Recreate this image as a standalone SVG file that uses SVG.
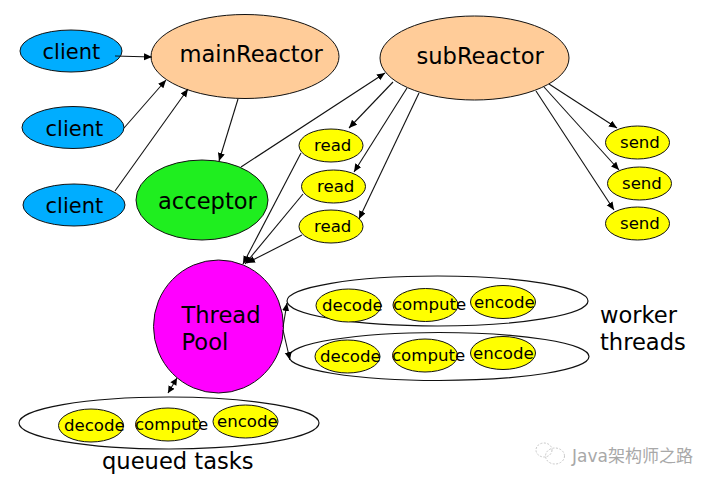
<svg xmlns="http://www.w3.org/2000/svg" width="716" height="486" viewBox="0 0 716 486">
<style>
text{font-family:"DejaVu Sans",Verdana,sans-serif;fill:#000}
.n ellipse{stroke:#111;stroke-width:1}
.blue ellipse{fill:#00adff}
.peach ellipse{fill:#ffcc99}
.y ellipse{fill:#ffff00}
.w ellipse{fill:#fff;stroke:#111;stroke-width:1.2}
.s{font-size:21px}.l{font-size:22.6px}.t{font-size:16.6px}
#connectors line{stroke:#111;stroke-width:1.1;marker-end:url(#a)}
#connectors line.both{marker-start:url(#b);marker-end:url(#c)}
</style>
<defs>
<marker id="a" markerUnits="userSpaceOnUse" markerWidth="9" markerHeight="8" refX="8" refY="3.500" orient="auto"><path d="M0 0L8 3.500L0 7z" fill="#000"/></marker>
<marker id="b" markerUnits="userSpaceOnUse" markerWidth="8" markerHeight="8" refX="0" refY="3.500" orient="auto"><path d="M7 0L0 3.500L7 7z" fill="#000"/></marker>
<marker id="c" markerUnits="userSpaceOnUse" markerWidth="8" markerHeight="8" refX="7" refY="3.500" orient="auto"><path d="M0 0L7 3.500L0 7z" fill="#000"/></marker>
</defs>
<rect width="716" height="486" fill="#fff"/>
<g id="client1" class="n blue"><ellipse cx="71" cy="51" rx="51" ry="21"/><text class="s" x="42.500" y="59">client</text></g>
<g id="client2" class="n blue"><ellipse cx="73" cy="127.500" rx="51" ry="21"/><text class="s" x="45.500" y="136">client</text></g>
<g id="client3" class="n blue"><ellipse cx="74" cy="205" rx="51" ry="21"/><text class="s" x="45.500" y="213">client</text></g>
<g id="mainReactor" class="n peach"><ellipse cx="245" cy="56.500" rx="94" ry="42"/><text class="l" x="179.500" y="62">mainReactor</text></g>
<g id="subReactor" class="n peach"><ellipse cx="474.500" cy="58" rx="94.500" ry="42"/><text class="l" x="416.500" y="64">subReactor</text></g>
<g id="acceptor" class="n"><ellipse cx="202" cy="200" rx="66" ry="40" style="fill:#1fee1f"/><text class="l" x="158" y="209">acceptor</text></g>
<g id="read1" class="n y"><ellipse cx="331" cy="145.500" rx="32" ry="16.500"/><text class="t" x="314" y="151">read</text></g>
<g id="read2" class="n y"><ellipse cx="333.500" cy="186.500" rx="32" ry="16.500"/><text class="t" x="317" y="192">read</text></g>
<g id="read3" class="n y"><ellipse cx="331" cy="226.500" rx="32" ry="16.500"/><text class="t" x="314" y="232">read</text></g>
<g id="send1" class="n y"><ellipse cx="637.500" cy="142.500" rx="32" ry="16.500"/><text class="t" x="620" y="148">send</text></g>
<g id="send2" class="n y"><ellipse cx="639.500" cy="183.500" rx="32" ry="16.500"/><text class="t" x="622" y="189">send</text></g>
<g id="send3" class="n y"><ellipse cx="637.500" cy="223.500" rx="32" ry="16.500"/><text class="t" x="620" y="229">send</text></g>
<g id="threadPool" class="n"><ellipse cx="218.500" cy="326.500" rx="65" ry="66.500" style="fill:#ff00ff"/><text class="l" x="181.500" y="323">Thread</text><text class="l" x="181.500" y="350">Pool</text></g>
<g id="worker1" class="w"><ellipse cx="437.500" cy="301" rx="150.500" ry="25"/></g>
<g id="worker2" class="w"><ellipse cx="439" cy="356.500" rx="150" ry="24"/></g>
<g id="queue" class="w"><ellipse cx="169" cy="423" rx="150" ry="26"/></g>
<g id="w1decode" class="n y"><ellipse cx="348.500" cy="305.500" rx="32.500" ry="16.500"/><text class="t" x="322" y="311">decode</text></g>
<g id="w1compute" class="n y"><ellipse cx="425.500" cy="305" rx="32.500" ry="16.500"/><text class="t" x="393" y="310">compute</text></g>
<g id="w1encode" class="n y"><ellipse cx="503" cy="302" rx="32.500" ry="16.500"/><text class="t" x="474" y="308">encode</text></g>
<g id="w2decode" class="n y"><ellipse cx="347.500" cy="356.500" rx="32.500" ry="16.500"/><text class="t" x="320" y="362">decode</text></g>
<g id="w2compute" class="n y"><ellipse cx="425" cy="355.500" rx="32.500" ry="16.500"/><text class="t" x="392" y="361">compute</text></g>
<g id="w2encode" class="n y"><ellipse cx="503" cy="353" rx="32.500" ry="16.500"/><text class="t" x="473" y="359">encode</text></g>
<g id="qdecode" class="n y"><ellipse cx="91" cy="425.500" rx="32.500" ry="16.500"/><text class="t" x="64" y="431">decode</text></g>
<g id="qcompute" class="n y"><ellipse cx="168" cy="424.500" rx="32.500" ry="16.500"/><text class="t" x="135" y="430">compute</text></g>
<g id="qencode" class="n y"><ellipse cx="245.500" cy="421.500" rx="32.500" ry="16.500"/><text class="t" x="217" y="427">encode</text></g>
<g id="labels">
<text class="l" x="600" y="323">worker</text>
<text class="l" x="600" y="350">threads</text>
<text class="l" x="102" y="469">queued tasks</text>
</g>
<g id="connectors">
<line x1="115" y1="56" x2="152" y2="57"/>
<line x1="124" y1="128" x2="166" y2="80"/>
<line x1="115" y1="191" x2="188" y2="89"/>
<line x1="238" y1="99" x2="219" y2="161"/>
<line x1="241" y1="167" x2="385" y2="73"/>
<line x1="393" y1="82" x2="349" y2="128"/>
<line x1="407" y1="88" x2="354" y2="172"/>
<line x1="419" y1="93" x2="359" y2="219"/>
<line x1="549" y1="84" x2="617" y2="128"/>
<line x1="544" y1="87" x2="619" y2="170"/>
<line x1="536" y1="91" x2="614" y2="210"/>
<line x1="301" y1="153" x2="243" y2="264"/>
<line x1="303" y1="194" x2="245" y2="264"/>
<line x1="302" y1="235" x2="247" y2="263"/>
<line x1="283" y1="327" x2="287" y2="303"/>
<line x1="283" y1="330" x2="290" y2="360"/>
<line class="both" x1="177" y1="378" x2="168" y2="393"/>
</g>
<g id="watermark" fill="none" stroke="#c8c8c8" stroke-width="1" stroke-dasharray="2 1.500">
<ellipse cx="544" cy="450" rx="8" ry="7"/>
<ellipse cx="555" cy="456" rx="9.500" ry="8"/>
<text x="572" y="462" font-size="17" style="fill:#a8a8a8;stroke:none;font-family:'DejaVu Sans','Noto Sans CJK SC',sans-serif">Java架构师之路</text>
</g>
</svg>
